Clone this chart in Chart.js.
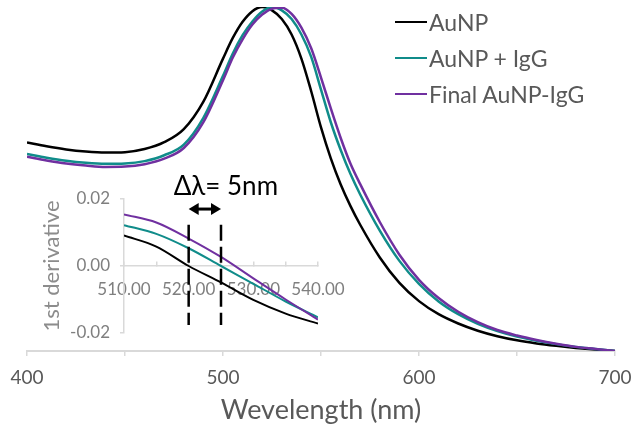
<!DOCTYPE html>
<html>
<head>
<meta charset="utf-8">
<script src="https://cdn.jsdelivr.net/npm/chart.js@4.4.0/dist/chart.umd.min.js"></script>
<style>
  body { margin: 0; background: #fff; font-family: Lato, sans-serif; }
  #wrap { position: relative; width: 632px; height: 430px; }
  #main { position: absolute; left: 0; top: 0; }
  #inset { position: absolute; left: 0; top: 170px; }
  #legend { position: absolute; left: 395px; top: 4px; }
  .row { height: 36px; display: flex; align-items: center; color: #595959; font-size: 23px; white-space: nowrap; }
  .swatch { width: 32px; height: 2.5px; margin-right: 2px; }
</style>
</head>
<body>
<div id="wrap">
  <canvas id="main" width="632" height="430"></canvas>
  <canvas id="inset" width="370" height="185"></canvas>
  <div id="legend"></div>
</div>
<script>
// UV-vis spectra (normalised absorbance)
const wavelengths = [400, 410, 420, 430, 440, 450, 460, 470, 480, 490,
    500, 505, 510, 515, 520, 525, 530, 535, 540, 545, 550, 555, 560, 565, 570,
    580, 590, 600, 610, 620, 630, 640, 650, 660, 670, 680, 690, 700];
const auNP = [0.606, 0.595, 0.586, 0.58, 0.577, 0.578, 0.587, 0.607, 0.645, 0.725,
    0.85, 0.91, 0.957, 0.988, 1.0, 0.99, 0.965, 0.92, 0.85, 0.755, 0.65, 0.56, 0.485, 0.422, 0.367,
    0.272, 0.198, 0.145, 0.107, 0.08, 0.059, 0.043, 0.031, 0.022, 0.015, 0.009, 0.004, 0.0];
const auNPIgG = [0.573, 0.562, 0.553, 0.547, 0.544, 0.545, 0.552, 0.569, 0.6, 0.678,
    0.8, 0.865, 0.918, 0.958, 0.987, 1.0, 0.99, 0.965, 0.92, 0.855, 0.76, 0.665, 0.585, 0.515, 0.455,
    0.35, 0.262, 0.195, 0.144, 0.107, 0.079, 0.058, 0.042, 0.03, 0.02, 0.012, 0.006, 0.0];
const finalAuNPIgG = [0.565, 0.554, 0.545, 0.539, 0.535, 0.536, 0.543, 0.559, 0.59, 0.665,
    0.787, 0.853, 0.906, 0.949, 0.978, 0.995, 0.998, 0.98, 0.94, 0.88, 0.795, 0.705, 0.62, 0.545, 0.485,
    0.375, 0.28, 0.207, 0.154, 0.114, 0.084, 0.061, 0.045, 0.032, 0.021, 0.012, 0.006, 0.0];

// inset: first derivative
const derivWavelengths = [510, 515, 520, 525, 530, 535, 540];
const derivAuNP = [0.0091, 0.0058, 0.0, -0.0049, -0.0101, -0.0142, -0.0172];
const derivAuNPIgG = [0.0122, 0.0096, 0.0053, 0.0, -0.0053, -0.0106, -0.0153];
const derivFinal = [0.0154, 0.0130, 0.0082, 0.0027, -0.0037, -0.0100, -0.0160];

const seriesNames = ['AuNP', 'AuNP + IgG', 'Final AuNP-IgG'];
const seriesColors = ['#000000', '#108c8a', '#7030a0'];
const spectra = [auNP, auNPIgG, finalAuNPIgG];
const derivs = [derivAuNP, derivAuNPIgG, derivFinal];

// zero crossings marking the shift
const shiftMarks = [520, 525];
const dashRange = [0.0123, -0.0176];
const arrowLevel = 0.017;
const shiftLabel = 'Δλ= 5nm';

const font = 'Lato';

// legend
const legendEl = document.getElementById('legend');
seriesNames.forEach((name, i) => {
    const row = document.createElement('div');
    row.className = 'row';
    row.innerHTML = '<div class="swatch" style="background:' + seriesColors[i] + '"></div><span>' + name + '</span>';
    legendEl.appendChild(row);
});

new Chart(document.getElementById('main'), {
    type: 'line',
    data: {
        datasets: seriesNames.map((name, i) => ({
            label: name,
            data: wavelengths.map((w, j) => ({ x: w, y: spectra[i][j] })),
            borderColor: seriesColors[i],
            borderWidth: 2.5,
            pointRadius: 0,
            cubicInterpolationMode: 'monotone',
            order: seriesNames.length - i
        }))
    },
    options: {
        responsive: false,
        animation: false,
        events: [],
        layout: { padding: { left: 27, right: 17, top: 7, bottom: 0 } },
        plugins: { legend: { display: false }, tooltip: { enabled: false } },
        scales: {
            x: {
                type: 'linear',
                min: 400,
                max: 700,
                afterFit: s => { s.height = 79; s.paddingLeft = 0; s.paddingRight = 0; },
                grid: { drawOnChartArea: false, tickLength: 5, color: '#d9d9d9', lineWidth: 1.5 },
                border: { color: '#d9d9d9', width: 2 },
                ticks: {
                    stepSize: 50,
                    autoSkip: false,
                    maxRotation: 0,
                    padding: 10,
                    color: '#595959',
                    font: { family: font, size: 19 },
                    callback: v => v % 100 === 0 ? v : ''
                },
                title: {
                    display: true,
                    text: 'Wevelength (nm)',
                    color: '#595959',
                    font: { family: font, size: 27 },
                    padding: { top: 4, bottom: 4 }
                }
            },
            y: { display: false, min: 0, max: 1 }
        }
    }
});

const shiftArrow = {
    id: 'shiftArrow',
    afterDatasetsDraw(chart) {
        const { ctx, scales: { x, y } } = chart;
        const x1 = x.getPixelForValue(shiftMarks[0]);
        const x2 = x.getPixelForValue(shiftMarks[1]);
        const ay = y.getPixelForValue(arrowLevel);
        ctx.save();
        ctx.strokeStyle = '#000';
        ctx.fillStyle = '#000';
        ctx.lineWidth = 3;
        ctx.beginPath();
        ctx.moveTo(x1 + 8, ay);
        ctx.lineTo(x2 - 8, ay);
        ctx.stroke();
        ctx.beginPath();
        ctx.moveTo(x1, ay); ctx.lineTo(x1 + 10, ay - 6); ctx.lineTo(x1 + 10, ay + 6);
        ctx.closePath(); ctx.fill();
        ctx.beginPath();
        ctx.moveTo(x2, ay); ctx.lineTo(x2 - 10, ay - 6); ctx.lineTo(x2 - 10, ay + 6);
        ctx.closePath(); ctx.fill();
        ctx.font = '26px ' + font;
        ctx.textAlign = 'left';
        ctx.textBaseline = 'middle';
        ctx.fillText(shiftLabel, x1 - 15, ay - 22);
        ctx.restore();
    }
};

const derivSets = seriesNames.map((name, i) => ({
    label: name,
    data: derivWavelengths.map((w, j) => ({ x: w, y: derivs[i][j] })),
    borderColor: seriesColors[i],
    borderWidth: 2,
    pointRadius: 0,
    cubicInterpolationMode: 'monotone',
    order: seriesNames.length - i
}));
const dashSets = shiftMarks.map(m => ({
    data: dashRange.map(v => ({ x: m, y: v })),
    borderColor: '#000',
    borderWidth: 2.5,
    borderDash: [16, 6],
    pointRadius: 0,
    order: 0
}));

new Chart(document.getElementById('inset'), {
    type: 'line',
    data: { datasets: dashSets.concat(derivSets) },
    options: {
        responsive: false,
        animation: false,
        events: [],
        layout: { padding: { left: 0, right: 52, top: 29, bottom: 22 } },
        plugins: { legend: { display: false }, tooltip: { enabled: false } },
        scales: {
            x: {
                type: 'linear',
                min: 510,
                max: 540,
                position: { y: 0 },
                afterFit: s => { s.paddingLeft = 0; s.paddingRight = 0; },
                grid: { drawOnChartArea: false, tickLength: -5, color: '#d9d9d9', lineWidth: 1.5 },
                border: { color: '#d9d9d9', width: 1.5 },
                ticks: {
                    stepSize: 5,
                    autoSkip: false,
                    maxRotation: 0,
                    padding: 18,
                    color: '#7f7f7f',
                    font: { family: font, size: 17 },
                    callback: v => v % 10 === 0 ? v.toFixed(2) : ''
                }
            },
            y: {
                min: -0.02,
                max: 0.02,
                afterFit: s => { s.width = 124; },
                grid: { drawOnChartArea: false, tickLength: 4, color: '#d9d9d9', lineWidth: 1.5 },
                border: { color: '#d9d9d9', width: 1.5 },
                ticks: {
                    stepSize: 0.02,
                    padding: 10,
                    color: '#7f7f7f',
                    font: { family: font, size: 17 },
                    callback: v => Math.abs(v) < 1e-9 ? '0.00' : v.toFixed(2)
                },
                title: {
                    display: true,
                    text: '1st derivative',
                    color: '#8c8c8c',
                    font: { family: font, size: 22 },
                    padding: { top: 39, bottom: 0 }
                }
            }
        }
    },
    plugins: [shiftArrow]
});
</script>
</body>
</html>
